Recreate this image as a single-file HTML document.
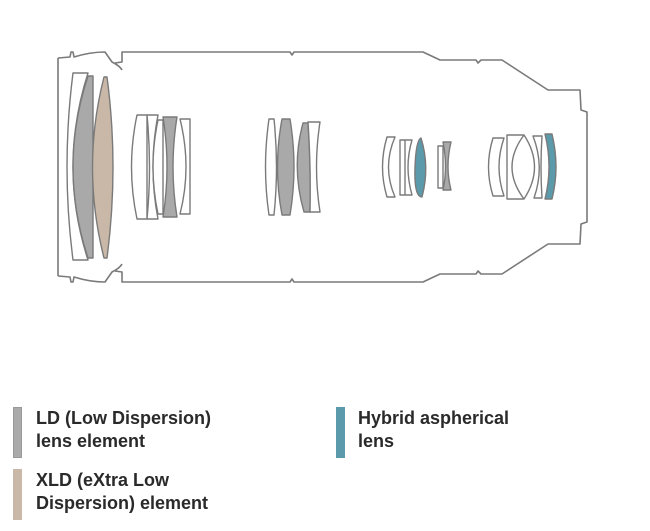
<!DOCTYPE html>
<html><head><meta charset="utf-8"><style>
html,body{margin:0;padding:0;background:#fff;width:650px;height:531px;overflow:hidden}
svg{position:absolute;left:0;top:0}
.t{position:absolute;font-family:"Liberation Sans",sans-serif;font-weight:bold;font-size:18px;line-height:23px;color:#2a2a2a}
.sw{position:absolute;width:9px;height:51px}
</style></head><body>
<svg width="650" height="531" viewBox="0 0 650 531">
<g fill="none" stroke="#7a7a7a" stroke-width="1.6" stroke-linejoin="round">
<path d="M58,58 L58,276 M58,58 L70,57 L71,52 L73,52 L74,57 Q90,52 105,52 L112,62 Q120,66 122,70 M115,63 L122,62 L122,52 L125,52 L290,52 L292,55 L294,52 L423,52 L440,60 L476,60 L478,63 L481,60 L502,60 L548,90 L580,90 L581,110 L587,112 L587,222 L581,224 L580,244 L548,244 L502,274 L481,274 L478,271 L476,274 L440,274 L423,282 L294,282 L292,279 L290,282 L125,282 L122,282 L122,272 L115,271 M122,264 Q120,268 112,272 L105,282 Q90,282 74,277 L73,282 L71,282 L70,277 L58,276"/>
</g>
<g stroke="#7a7a7a" stroke-width="1.4" stroke-linejoin="round">
<path fill="#fff" d="M73,73 L88,73 Q58,167 88,260 L73,260 Q61,167 73,73Z"/>
<path fill="#a9a9a9" d="M88,76 L93,76 L93,258 L88,258 Q58,167 88,76Z"/>
<path fill="#c9b8a8" d="M104,77 L107,77 Q119,167 107,258 L104,258 Q81,167 104,77Z"/>
<path fill="#fff" d="M137,115 L147,115 L147,219 L137,219 Q126,167 137,115Z"/>
<path fill="#fff" d="M147,115 L158,115 Q148,167 158,219 L147,219 Q152,167 147,115Z"/>
<path fill="#fff" d="M158,120 L163,120 L163,214 L158,214 Q148,167 158,120Z"/>
<path fill="#a9a9a9" d="M163,117 L177,117 Q169,167 177,217 L163,217 Q171,167 163,117Z"/>
<path fill="#fff" d="M180,119 L190,119 L190,214 L180,214 Q192,167 180,119Z"/>
<path fill="#fff" d="M269,119 L274,119 Q279,167 274,215 L269,215 Q262,167 269,119Z"/>
<path fill="#a9a9a9" d="M282,119 L290,119 Q298,167 290,215 L282,215 Q273,167 282,119Z"/>
<path fill="#a9a9a9" d="M303,123 L308,123 Q311,167 310,212 L304,212 Q291,167 303,123Z"/>
<path fill="#fff" d="M308,122 L320,122 Q313,167 320,212 L310,212 Q311,167 308,122Z"/>
<path fill="#fff" d="M387,137 L395,137 Q382,167 395,197 L387,197 Q378,167 387,137Z"/>
<path fill="#fff" d="M400,140 L412,140 Q404,167 412,195 L400,195 Z"/>
<path fill="none" d="M405,140 L405,195"/>
<path fill="#5a9aaa" d="M421,138 Q430,167 422,197 Q414,197 415,167 Q416,140 421,138Z"/>
<path fill="#fff" d="M438,146 L443,146 L443,188 L438,188 Z"/>
<path fill="#a9a9a9" d="M443,142 L451,142 Q445,167 451,190 L443,190 Q448,167 443,142Z"/>
<path fill="#fff" d="M493,138 L504,138 Q494,167 504,196 L493,196 Q484,167 493,138Z"/>
<path fill="#fff" d="M507,135 L524,135 Q545,167 524,199 L507,199 Z"/>
<path fill="none" d="M524,135 Q500,167 524,199"/>
<path fill="#fff" d="M533,136 L542,136 Q540,167 542,198 L534,198 Q545,167 533,136Z"/>
<path fill="#5a9aaa" d="M545,134 L552,134 Q560,167 552,199 L545,199 Q553,167 545,134Z"/>
</g>
</svg>
<div class="sw" style="left:13px;top:407px;background:#aaa;border:1px solid #999;box-sizing:border-box"></div>
<div class="t" style="left:36px;top:407px">LD (Low Dispersion)<br>lens element</div>
<div class="sw" style="left:13px;top:469px;background:#c9b8a8"></div>
<div class="t" style="left:36px;top:469px">XLD (eXtra Low<br>Dispersion) element</div>
<div class="sw" style="left:336px;top:407px;background:#5a9aaa"></div>
<div class="t" style="left:358px;top:407px">Hybrid aspherical<br>lens</div>
</body></html>
